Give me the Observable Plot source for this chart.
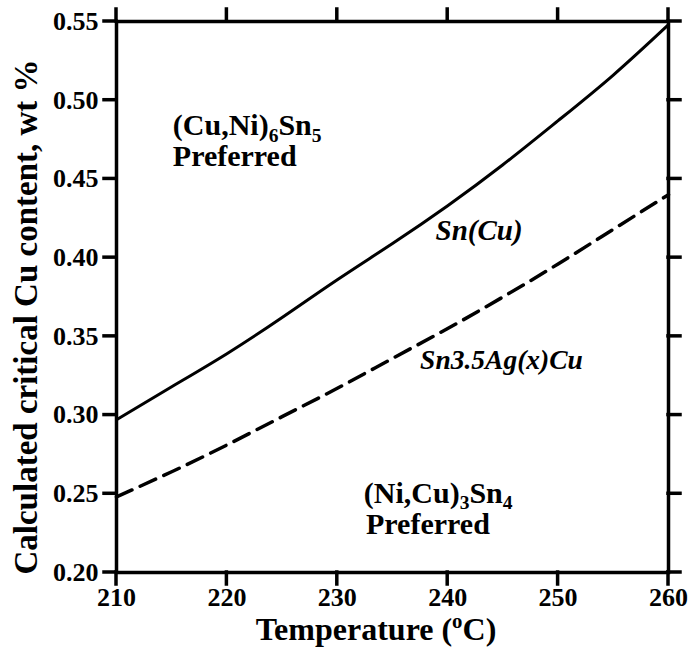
<!DOCTYPE html>
<html>
<head>
<meta charset="utf-8">
<script src="https://cdn.jsdelivr.net/npm/d3@7"></script>
<script src="https://cdn.jsdelivr.net/npm/@observablehq/plot@0.6"></script>
<style>
  body { margin: 0; background: white; }
  svg { display: block; }
</style>
</head>
<body>
<div id="chart"></div>
<script>
// ---- data ----
const temps   = [210, 215, 220, 225, 230, 235, 240, 245, 250, 255, 260];
const snCu    = [0.297, 0.318, 0.339, 0.362, 0.386, 0.409, 0.433, 0.459, 0.487, 0.516, 0.548];
const snAgCu  = [0.248, 0.264, 0.281, 0.299, 0.317, 0.336, 0.355, 0.375, 0.396, 0.418, 0.440];
const xTicks  = [210, 220, 230, 240, 250, 260];
const yTicks  = [0.20, 0.25, 0.30, 0.35, 0.40, 0.45, 0.50, 0.55];
const xTitle  = "Temperature (^oC)";
const yTitle  = "Calculated critical Cu content, wt %";
// region labels (upright bold) and curve labels (bold italic)
const regionText = ["(Cu,Ni)_6Sn_5", "Preferred", "(Ni,Cu)_3Sn_4", "Preferred"];
const regionT    = [215.1, 215.1, 232.4, 232.6];
const regionV    = [0.4776, 0.4585, 0.2444, 0.2247];
const curveText  = ["Sn(Cu)", "Sn3.5Ag(x)Cu"];
const curveT     = [238.9, 237.5];
const curveV     = [0.4109, 0.3295];

const lineData = (vals) => temps.map((t, i) => ({t, v: vals[i]}));
const regions = regionText.map((s, i) => ({s, t: regionT[i], v: regionV[i]}));
const curves  = curveText.map((s, i) => ({s, t: curveT[i], v: curveV[i]}));

const FONT = "'Liberation Serif', 'Times New Roman', serif";
const TICK = 12, SW = 3.5, TICKFONT = 26;

const plot = Plot.plot({
  width: 693,
  height: 651,
  marginLeft: 116,
  marginRight: 25,
  marginTop: 21,
  marginBottom: 79,
  style: {fontFamily: FONT, fontWeight: "bold", color: "black", background: "white", overflow: "visible"},
  x: {domain: [210, 260]},
  y: {domain: [0.20, 0.55]},
  marks: [
    Plot.line(lineData(snCu), {x: "t", y: "v", curve: "natural", stroke: "black", strokeWidth: 3}),
    Plot.line(lineData(snAgCu), {x: "t", y: "v", curve: "natural", stroke: "black", strokeWidth: 3.5, strokeDasharray: "17,9"}),
    Plot.axisX({anchor: "bottom", ticks: xTicks, tickSize: 0, tickPadding: 15, fontSize: TICKFONT, tickFormat: d => String(d), label: null}),
    Plot.axisY({anchor: "left", ticks: yTicks, tickSize: 0, tickPadding: 18, fontSize: TICKFONT, tickFormat: d3.format(".2f"), label: null}),
    Plot.frame({stroke: "black", strokeWidth: SW}),
    Plot.text(regions, {x: "t", y: "v", text: "s", textAnchor: "start", lineAnchor: "bottom", fontSize: 30, fontWeight: "bold", fill: "black"}),
    Plot.text(curves.slice(0, 1), {x: "t", y: "v", text: "s", textAnchor: "start", lineAnchor: "bottom", fontSize: 29, fontWeight: "bold", fontStyle: "italic", fill: "black"}),
    Plot.text(curves.slice(1), {x: "t", y: "v", text: "s", textAnchor: "start", lineAnchor: "bottom", fontSize: 27.5, fontWeight: "bold", fontStyle: "italic", fill: "black"})
  ]
});

document.getElementById("chart").appendChild(plot);
const svg = d3.select(plot);

// tick labels: force the serif bold face and size (no tabular variant)
svg.selectAll('g[aria-label$="tick label"]')
  .attr("font-size", TICKFONT).attr("font-family", FONT).attr("font-weight", "bold")
  .attr("font-variant", null).style("font-variant", "normal");

// outward ticks on all four sides, positioned with the plot's own scales
const sx = plot.scale("x"), sy = plot.scale("y");
const [xl, xr] = sx.range, [yb, yt] = sy.range;
const tg = svg.append("g").attr("stroke", "black").attr("stroke-width", SW).attr("stroke-linecap", "square");
for (const t of xTicks) {
  const px = sx.apply(t);
  tg.append("line").attr("x1", px).attr("x2", px).attr("y1", yb).attr("y2", yb + TICK);
  tg.append("line").attr("x1", px).attr("x2", px).attr("y1", yt).attr("y2", yt - TICK);
}
for (const v of yTicks) {
  const py = sy.apply(v);
  tg.append("line").attr("y1", py).attr("y2", py).attr("x1", xl).attr("x2", xl - TICK);
  tg.append("line").attr("y1", py).attr("y2", py).attr("x1", xr).attr("x2", xr + TICK);
}

// rich text: "_x" subscript char, "^x" superscript char
function setRich(textSel, str, size) {
  textSel.text(null);
  let i = 0, buf = "", pendingDy = 0;
  const flush = () => {
    if (buf) {
      const ts = textSel.append("tspan").text(buf);
      if (pendingDy) ts.attr("dy", pendingDy);
      buf = ""; pendingDy = 0;
    }
  };
  while (i < str.length) {
    const c = str[i];
    if ((c === "_" || c === "^") && i + 1 < str.length) {
      flush();
      const shift = c === "_" ? size * 0.22 : -size * 0.38;
      textSel.append("tspan").attr("dy", shift + pendingDy).attr("font-size", size * 0.65).text(str[i + 1]);
      pendingDy = -shift;
      i += 2;
    } else { buf += c; i++; }
  }
  flush();
}

svg.selectAll("text").each(function () {
  const t = d3.select(this);
  const s = t.text();
  if (s.includes("_")) setRich(t, s, 30);
});

// axis titles
const xt = svg.append("text")
  .attr("x", 376).attr("y", 640)
  .attr("text-anchor", "middle")
  .attr("font-family", FONT).attr("font-weight", "bold").attr("font-size", 32).attr("fill", "black");
setRich(xt, xTitle, 32);

svg.append("text")
  .attr("transform", "translate(37,317) rotate(-90)")
  .attr("text-anchor", "middle")
  .attr("font-family", FONT).attr("font-weight", "bold").attr("font-size", 33).attr("fill", "black")
  .text(yTitle);
</script>
</body>
</html>
